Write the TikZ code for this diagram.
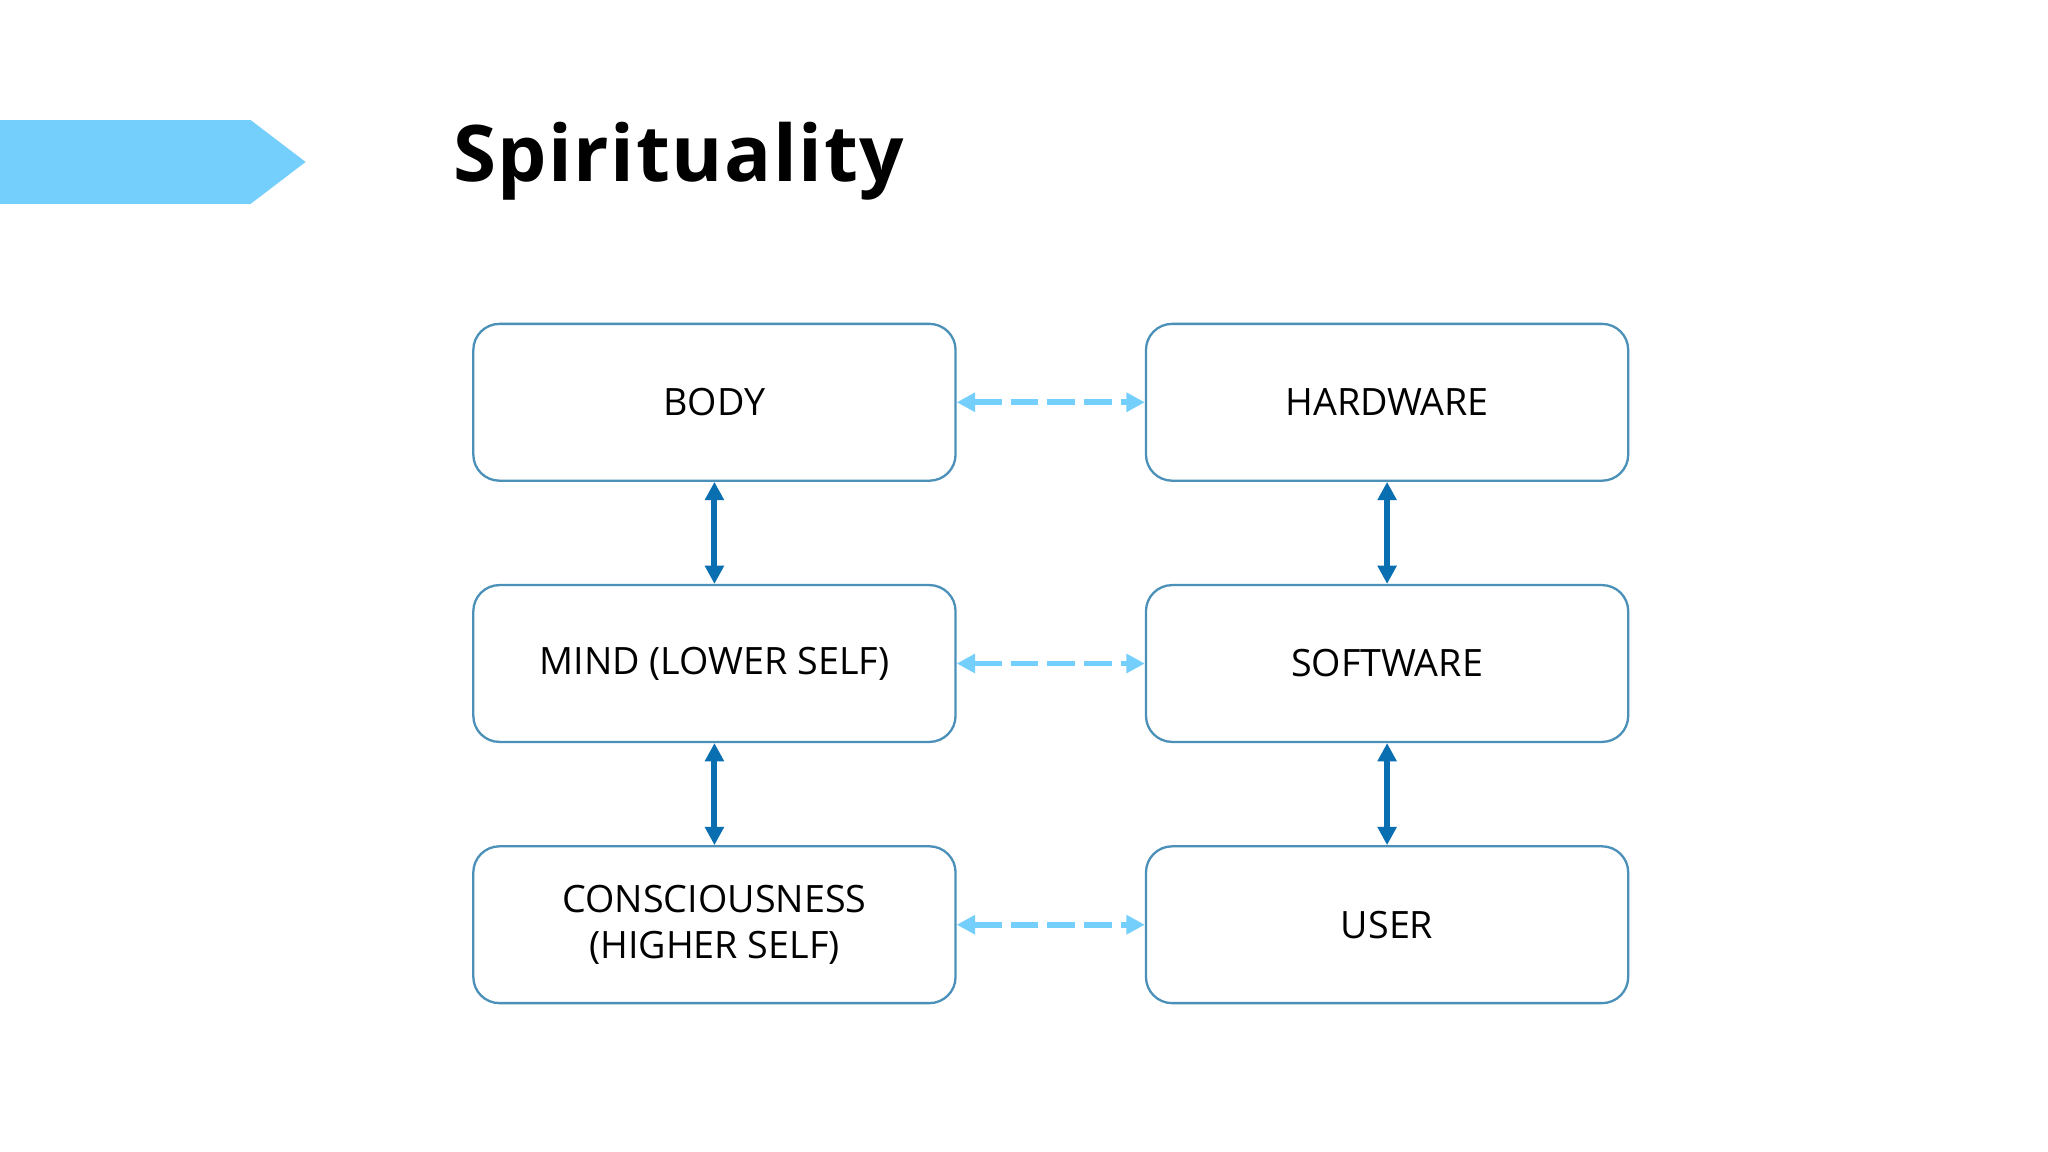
\documentclass[tikz,border=0pt]{standalone}
\usepackage{fontspec}
\setmainfont{Open Sans}
\usetikzlibrary{positioning,arrows.meta}
\definecolor{skyblue}{HTML}{74CFFC}
\definecolor{boxline}{HTML}{4A90B8}
\definecolor{deepblue}{HTML}{0A6FB0}
\begin{document}
\begin{tikzpicture}
  [x=0.01cm,y=-0.01cm,
   every node/.style={rectangle,rounded corners=0.2cm,draw=boxline,line width=0.5pt,
     minimum width=3.69cm,minimum height=1.2cm,align=center,font=\fontsize{8.2}{10}\selectfont},
   link/.style={{Triangle[length=4pt,width=4pt]}-{Triangle[length=4pt,width=4pt]},deepblue,line width=1.3pt},
   peer/.style={{Triangle[length=4pt,width=4pt]}-{Triangle[length=4pt,width=4pt]},skyblue,line width=1.3pt,dash pattern=on 6pt off 2pt}]
  \useasboundingbox (0,0) rectangle (1568,882);
  \fill[white] (0,0) rectangle (1568,882);
  % banner and title
  \fill[skyblue] (0,92) -- (192,92) -- (234,124) -- (192,156) -- (0,156) -- cycle;
  \node[draw=none,anchor=base west,minimum width=0pt,minimum height=0pt,inner sep=0pt,
    font=\fontsize{17}{20}\selectfont\bfseries\addfontfeature{LetterSpace=2}] (title) at (346,139) {Spirituality};
  % human side
  \node (body) at (547,308) {BODY};
  \node (mind) at (547,508) {MIND (LOWER SELF)};
  \node (conscious) at (547,708) {CONSCIOUSNESS\\(HIGHER SELF)};
  % computer side
  \node (hardware) at (1062,308) {HARDWARE};
  \node (software) at (1062,508) {SOFTWARE};
  \node (user) at (1062,708) {USER};

  \foreach \from/\to in {body/mind,mind/conscious,hardware/software,software/user}
    \draw[link] (\from) -- (\to);
  \foreach \from/\to in {body/hardware,mind/software,conscious/user}
    \draw[peer] (\from) -- (\to);
\end{tikzpicture}
\end{document}
